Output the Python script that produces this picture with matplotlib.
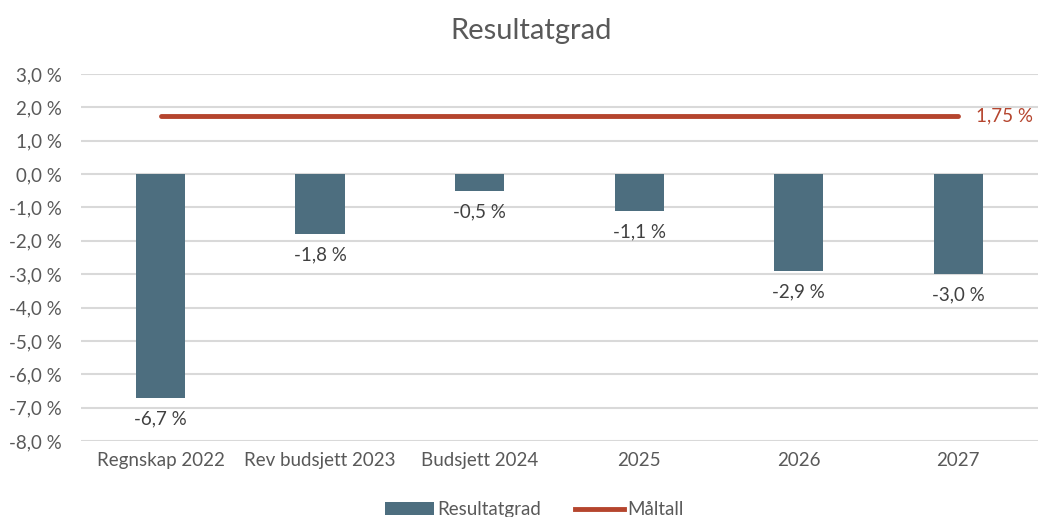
import matplotlib.pyplot as plt
from matplotlib.lines import Line2D
from matplotlib.patches import Patch

categories = ["Regnskap 2022", "Rev budsjett 2023", "Budsjett 2024", "2025", "2026", "2027"]
resultatgrad = [-6.7, -1.8, -0.5, -1.1, -2.9, -3.0]
maltall = [1.75, 1.75, 1.75, 1.75, 1.75, 1.75]
y_ticks = [3, 2, 1, 0, -1, -2, -3, -4, -5, -6, -7, -8]

bar_color = "#4D6E7F"
line_color = "#B5452E"
text_color = "#595959"

plt.rcParams["font.family"] = ["Lato", "DejaVu Sans"]

fig = plt.figure(figsize=(10.38, 5.17), dpi=100)
ax = fig.add_axes([0.078, 0.147, 0.922, 0.710])

x = list(range(len(categories)))
ax.bar(x, resultatgrad, width=0.31, color=bar_color, zorder=3)
ax.plot(x, maltall, color=line_color, linewidth=3.5, solid_capstyle="round", zorder=4)

for xi, v in zip(x, resultatgrad):
    ax.annotate(f"{v:.1f} %".replace(".", ","), (xi, v), xytext=(0, -9),
                textcoords="offset points", ha="center", va="top",
                fontsize=13.5, color="#404040")

ax.annotate(f"{maltall[-1]:.2f} %".replace(".", ","), (x[-1], maltall[-1]),
            xytext=(13, 0), textcoords="offset points", ha="left", va="center",
            fontsize=13.5, color=line_color)

ax.set_xlim(-0.5, len(categories) - 0.5)
ax.set_ylim(-8, 3)
ax.set_yticks(y_ticks)
ax.set_yticklabels([f"{t:.1f} %".replace(".", ",") for t in y_ticks])
ax.set_xticks(x)
ax.set_xticklabels(categories)
ax.tick_params(axis="both", length=0, labelsize=13.5, labelcolor=text_color)
ax.tick_params(axis="y", pad=14)
ax.tick_params(axis="x", pad=8)
ax.grid(axis="y", color="#D9D9D9", linewidth=1.5, zorder=0)
for s in ax.spines.values():
    s.set_visible(False)

fig.suptitle("Resultatgrad", x=0.512, y=0.965, fontsize=21, color=text_color)

handles = [Patch(facecolor=bar_color, label="Resultatgrad"),
           Line2D([0], [0], color=line_color, linewidth=3.5, label="Måltall")]
fig.legend(handles=handles, loc="lower center", bbox_to_anchor=(0.515, -0.035),
           ncol=2, frameon=False, fontsize=13.5, labelcolor=text_color,
           handlelength=2.6, handletextpad=0.2, columnspacing=1.8)

fig.savefig("out.png", dpi=100)
